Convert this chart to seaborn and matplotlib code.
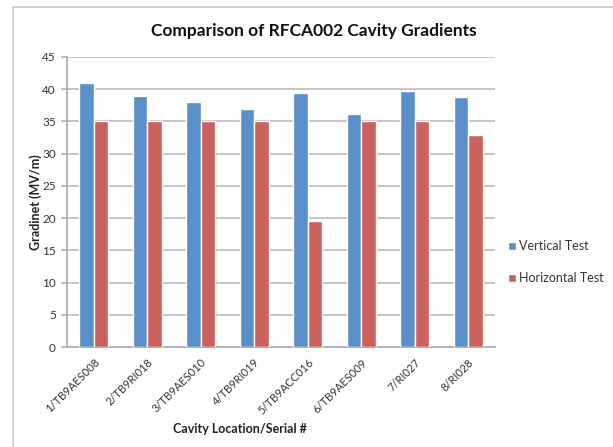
import numpy as np
import pandas as pd
import matplotlib
matplotlib.use("Agg")
import matplotlib.pyplot as plt
import matplotlib.transforms as mtransforms
import seaborn as sns
from matplotlib.patches import Rectangle

# data
cavities = ["1/TB9AES008", "2/TB9RI018", "3/TB9AES010", "4/TB9RI019",
            "5/TB9ACC016", "6/TB9AES009", "7/RI027", "8/RI028"]
vertical = [41.0, 39.0, 38.0, 37.0, 39.4, 36.1, 39.7, 38.85]
horizontal = [35.0, 35.0, 35.0, 35.0, 19.6, 35.0, 35.0, 32.9]
series = ["Vertical Test", "Horizontal Test"]
y_ticks = [0, 5, 10, 15, 20, 25, 30, 35, 40, 45]

df = pd.DataFrame({
    "cavity": cavities * 2,
    "value": vertical + horizontal,
    "test": [series[0]] * len(cavities) + [series[1]] * len(cavities),
})

sns.set_theme(style="white")
plt.rcParams["font.family"] = ["Lato", "DejaVu Sans"]

W, H = 613, 447
fig = plt.figure(figsize=(W / 100, H / 100), dpi=100)
fig.patch.set_facecolor("white")
ax = fig.add_axes([67 / W, 1 - 347 / H, (495 - 67) / W, (347 - 57) / H])

# outer chart frame (left/top edges visible)
fig.patches.append(Rectangle((13 / W, -0.1), 1.2, 1 - 7 / H + 0.1,
                             transform=fig.transFigure, fill=False,
                             edgecolor="#c8c8c8", lw=1.2, zorder=0))

sns.barplot(data=df, x="cavity", y="value", hue="test", order=cavities,
            hue_order=series, palette=["#5a8fca", "#cc625d"],
            width=0.54, gap=0, saturation=1, errorbar=None, ax=ax, zorder=3)

ax.set_xlim(-0.5, len(cavities) - 0.5)
ax.set_ylim(0, 45)
ax.set_yticks(y_ticks)
ax.yaxis.grid(True, color="#c0c0c0", lw=1.3, zorder=0)
ax.set_axisbelow(True)
for s in ["top", "right"]:
    ax.spines[s].set_visible(False)
for s in ["left", "bottom"]:
    ax.spines[s].set_color("#b0b0b0")
    ax.spines[s].set_linewidth(1.3)

# category ticks at boundaries
ax.set_xticks(np.arange(len(cavities)))
ax.set_xticklabels(cavities, rotation=45, ha="right", rotation_mode="anchor",
                   fontsize=8, color="#333333")
shift = mtransforms.ScaledTranslation(-7 / 100, 0, fig.dpi_scale_trans)
for lab in ax.get_xticklabels():
    lab.set_transform(lab.get_transform() + shift)
ax.set_xticks(np.arange(-0.5, len(cavities)), minor=True)
ax.tick_params(axis="x", which="major", length=0, pad=7)
ax.tick_params(axis="x", which="minor", length=4, color="#b0b0b0", width=1.2,
               direction="out")
ax.tick_params(axis="y", length=4, color="#b0b0b0", width=1.2, direction="out",
               labelsize=8.5, labelcolor="#333333", pad=4)
ax.tick_params(bottom=True, left=True)

ax.set_xlabel("")
ax.set_ylabel("")
fig.text(240 / W, 1 - 429 / H, "Cavity Location/Serial #", ha="center",
         va="center", fontsize=9, fontweight="bold", color="#222222")
fig.text(36 / W, 1 - 202 / H, "Gradinet (MV/m)", ha="center", va="center",
         rotation=90, fontsize=9, fontweight="bold", color="#222222")
fig.text(314 / W, 1 - 31 / H, "Comparison of RFCA002 Cavity Gradients",
         ha="center", va="center", fontsize=12.5, fontweight="bold",
         color="#111111")

ax.legend(loc="center left", bbox_to_anchor=(503 / W, 1 - 262 / H),
          bbox_transform=fig.transFigure, frameon=False, fontsize=9,
          handlelength=0.6, handleheight=0.6, handletextpad=0.3,
          labelspacing=1.6, borderaxespad=0)
for t in ax.get_legend().get_texts():
    t.set_color("#333333")

fig.savefig("out.png", dpi=100)
